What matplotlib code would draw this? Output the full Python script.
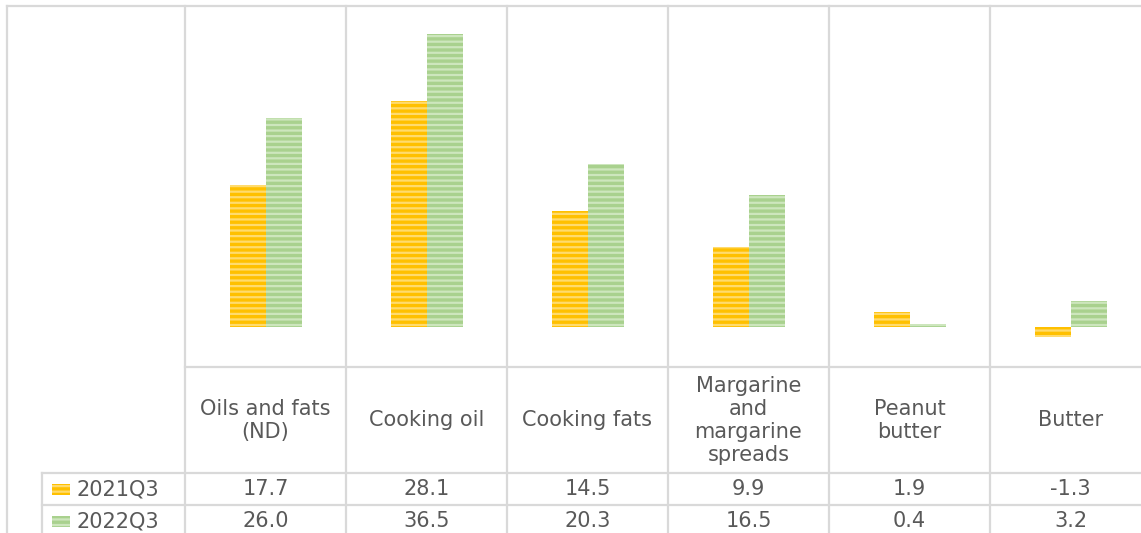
import matplotlib.pyplot as plt
from matplotlib.patches import Rectangle
import numpy as np

plt.rcParams['font.family'] = ['DejaVu Sans']
plt.rcParams['hatch.linewidth'] = 1.6

categories = ['Oils and fats\n(ND)', 'Cooking oil', 'Cooking fats',
              'Margarine\nand\nmargarine\nspreads', 'Peanut\nbutter', 'Butter']
series_names = ['2021Q3', '2022Q3']
values_2021 = [17.7, 28.1, 14.5, 9.9, 1.9, -1.3]
values_2022 = [26.0, 36.5, 20.3, 16.5, 0.4, 3.2]

face_colors = ['#FFC000', '#A9D18E']
stripe_colors = ['#FFDB6E', '#CDE6BD']
grid_color = '#D9D9D9'
text_color = '#595959'
fs = 15

W, H = 1141, 533
fig = plt.figure(figsize=(W / 100, H / 100), dpi=100)


def fig_rect(x0, y0, x1, y1):
    # pixel box (top-left origin) -> figure fraction
    return [x0 / W, 1 - y1 / H, (x1 - x0) / W, (y1 - y0) / H]


# plot area: 6 category columns, 161 px each
col_w = 161
plot_left, plot_top, plot_bottom = 185, 6, 367
ax = fig.add_axes(fig_rect(plot_left, plot_top, plot_left + 6 * col_w, plot_bottom))
ax.set_xlim(0, 6)
ax.set_ylim(-5, 40)
ax.axis('off')

x = np.arange(len(categories)) + 0.5
bw = 36 / col_w
for vals, off, fc, sc in [(values_2021, -bw / 2, face_colors[0], stripe_colors[0]),
                          (values_2022, bw / 2, face_colors[1], stripe_colors[1])]:
    ax.bar(x + off, vals, width=bw, color=fc, edgecolor=sc, linewidth=0,
           hatch='---', zorder=3)

# overlay in pixel coordinates for the frame, category labels and data table
ov = fig.add_axes([0, 0, 1, 1])
ov.set_xlim(0, W)
ov.set_ylim(H, 0)
ov.axis('off')
ov.patch.set_alpha(0)

lw = 1.6
row1, row2, row_end = 473, 505, 537
# outer frame
ov.plot([7, W], [6, 6], color=grid_color, lw=lw)
ov.plot([7, 7], [6, H], color=grid_color, lw=lw)
# column separators
for i in range(7):
    xi = plot_left + i * col_w
    ov.plot([xi, xi], [6, H], color=grid_color, lw=lw)
# horizontal separators
ov.plot([plot_left, W], [plot_bottom, plot_bottom], color=grid_color, lw=lw)
for yy in (row1, row2, row_end):
    ov.plot([42, W], [yy, yy], color=grid_color, lw=lw)
ov.plot([42, 42], [row1, H], color=grid_color, lw=lw)

# category labels
for i, cat in enumerate(categories):
    cx = plot_left + (i + 0.5) * col_w
    ov.text(cx, (plot_bottom + row1) / 2 + 0.5, cat, ha='center', va='center',
            fontsize=fs, color=text_color, linespacing=1.2)

# data table rows
rows = [values_2021, values_2022]
for r, (name, vals) in enumerate(zip(series_names, rows)):
    y0 = row1 if r == 0 else row2
    cy = y0 + 16
    ov.add_patch(Rectangle((52, cy - 5.5), 18, 11, facecolor=face_colors[r],
                           edgecolor=stripe_colors[r], linewidth=0, hatch='---'))
    ov.text(77, cy, name, ha='left', va='center', fontsize=fs, color=text_color)
    for i, v in enumerate(vals):
        cx = plot_left + (i + 0.5) * col_w
        ov.text(cx, cy, f'{v:.1f}', ha='center', va='center',
                fontsize=fs, color=text_color)

fig.savefig('out.png', dpi=100)
